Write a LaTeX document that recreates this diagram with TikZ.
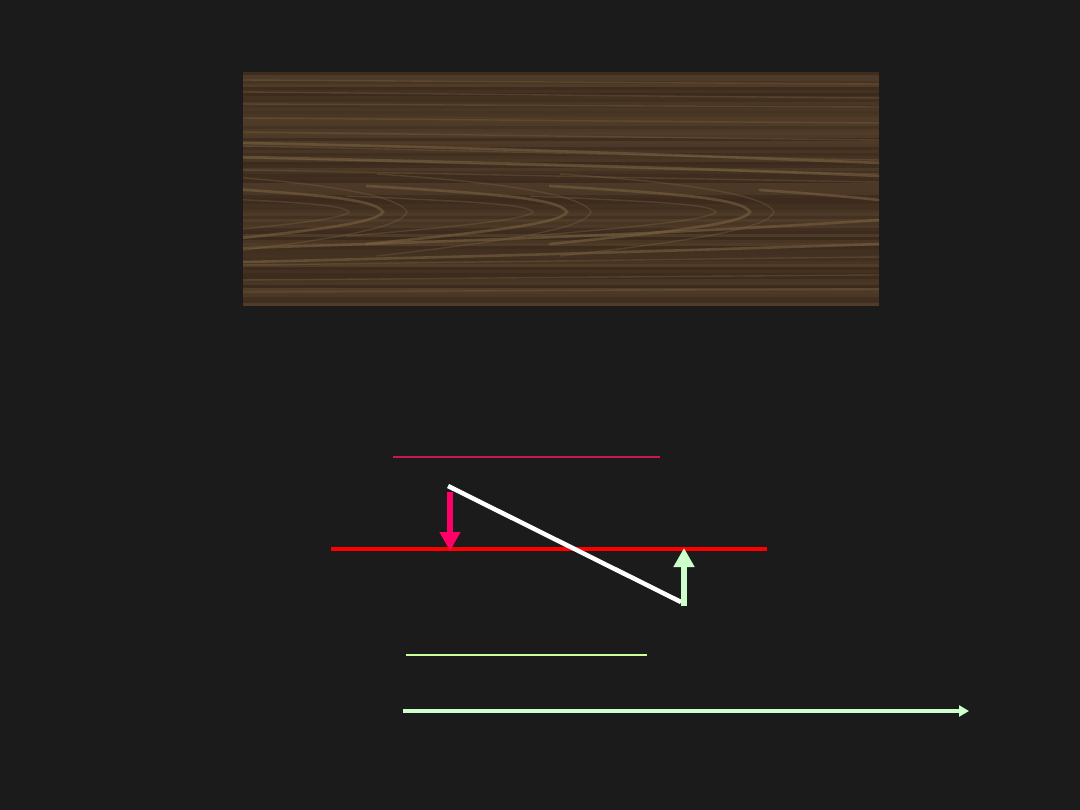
\documentclass[tikz,border=0pt]{standalone}
\usetikzlibrary{arrows.meta}
\definecolor{bg}{HTML}{1B1B1B}
\definecolor{woodbase}{HTML}{463220}
\definecolor{wooddark}{HTML}{36261A}
\definecolor{woodlight}{HTML}{56412C}
\definecolor{grainc}{HTML}{7E6644}
\definecolor{pinkc}{HTML}{FF0066}
\definecolor{redc}{HTML}{FF0000}
\definecolor{mintc}{HTML}{CCFFCC}
\definecolor{limec}{HTML}{CCFF99}
\definecolor{crimsonc}{HTML}{C81850}
\tikzset{
  grain/.style={draw=grainc,line width=2.6pt,opacity=0.55,line cap=round},
  faint/.style={draw=grainc,line width=1.4pt,opacity=0.35},
  pinkarrow/.style={draw=pinkc,line width=6pt,-{Triangle[width=20pt,length=19pt]}},
  mintarrow/.style={draw=mintc,line width=6pt,-{Triangle[width=20pt,length=19pt]}},
  axisarrow/.style={draw=mintc,line width=4pt,-{Triangle[width=11pt,length=10pt]}},
}
\begin{document}
\begin{tikzpicture}[x=1pt,y=-1pt]
\useasboundingbox (0,0) rectangle (1080,810);
\fill[bg] (0,0) rectangle (1080,810);
% wood texture
\begin{scope}
\clip (243,72) rectangle (879,306);
\fill[woodbase] (243,72) rectangle (879,306);
\pgfmathsetseed{7}
\foreach \i in {0,...,77} {
  \pgfmathsetmacro\p{int(15+70*rnd)}
  \fill[wooddark!\p!woodlight] (243,72+3*\i) rectangle (879,75+3*\i);
}
\foreach \yy/\dy in {80/4,92/6,104/3,118/5,132/8,146/14,158/16,170/12,265/-8,280/-5,292/-3} {
  \draw[faint] (243,\yy) .. controls (450,\yy+0.3*\dy) and (650,\yy+0.7*\dy) .. (879,\yy+\dy);
}
\draw[grain] (243,143) .. controls (500,148) and (700,156) .. (879,163);
\draw[grain] (243,157) .. controls (500,163) and (700,168) .. (879,176);
\draw[grain] (243,248) .. controls (500,240) and (700,232) .. (879,220);
\draw[grain] (243,262) .. controls (500,256) and (700,250) .. (879,244);
\foreach \tx in {383,567,750} {
  \draw[grain] (\tx-200,186) .. controls (\tx-60,194) and (\tx-6,200) .. (\tx,212) .. controls (\tx-6,223) and (\tx-70,231) .. (\tx-200,244);
  \draw[faint] (\tx-220,196) .. controls (\tx-90,202) and (\tx-40,204) .. (\tx-34,212) .. controls (\tx-40,219) and (\tx-100,226) .. (\tx-220,236);
  \draw[faint] (\tx-190,174) .. controls (\tx-40,184) and (\tx+18,198) .. (\tx+24,212) .. controls (\tx+18,228) and (\tx-50,240) .. (\tx-190,256);
}
\draw[grain] (760,190) .. controls (820,194) and (860,198) .. (879,200);
\end{scope}
% coordinates
\coordinate (topL) at (393,457);
\coordinate (topR) at (660,457);
\coordinate (redL) at (331,549);
\coordinate (redR) at (767,549);
\coordinate (whA) at (448,486);
\coordinate (whB) at (681,602);
\coordinate (pkS) at (450,492);
\coordinate (pkE) at (450,551);
\coordinate (mnS) at (684,606);
\coordinate (mnE) at (684,548);
\coordinate (limeL) at (406,654.5);
\coordinate (limeR) at (647,654.5);
\coordinate (axL) at (403,711);
\coordinate (axR) at (969,711);
% lines
\draw[crimsonc,line width=1.1pt] (topL) -- (topR);
\draw[redc,line width=4pt] (redL) -- (redR);
\draw[white,line width=4.5pt] (whA) -- (whB);
\draw[pinkarrow] (pkS) -- (pkE);
\draw[mintarrow] (mnS) -- (mnE);
\draw[limec,line width=2pt] (limeL) -- (limeR);
\draw[axisarrow] (axL) -- (axR);
\end{tikzpicture}
\end{document}
